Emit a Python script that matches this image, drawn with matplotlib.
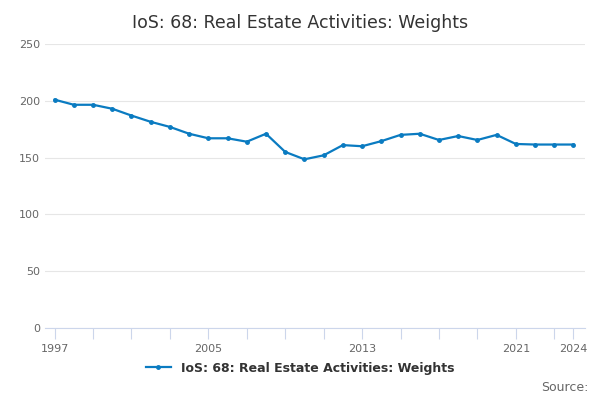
import matplotlib.pyplot as plt

years = list(range(1997, 2025))
weights = [201, 196.5, 196.5, 193, 187, 181.5, 177, 171, 167, 167, 164, 171,
           155, 148.5, 152, 161, 160, 164.5, 170, 171, 165.5, 169, 165.5, 170,
           162, 161.5, 161.5, 161.5]
label = "IoS: 68: Real Estate Activities: Weights"

fig = plt.figure(figsize=(6, 4), dpi=100)
ax = fig.add_axes([0.075, 0.18, 0.90, 0.71])
ax.plot(years, weights, color="#0a7bc1", lw=1.6, marker="o", ms=2.5, label=label)

ax.set_xlim(1996.5, 2024.6)
ax.set_ylim(0, 250)
ax.set_yticks([0, 50, 100, 150, 200, 250])
ax.set_xticks(list(range(1997, 2024, 2)) + [2024])
ax.set_xticklabels([str(y) if y in (1997, 2005, 2013, 2021, 2024) else "" for y in ax.get_xticks().astype(int)])
ax.grid(axis="y", color="#e6e6e6", lw=0.8)
ax.set_axisbelow(True)
for s in ("top", "right", "left"):
    ax.spines[s].set_visible(False)
ax.spines["bottom"].set_color("#ccd6eb")
ax.tick_params(axis="y", length=0, labelsize=8, colors="#666666")
ax.tick_params(axis="x", length=8, color="#ccd6eb", labelsize=8, colors="#666666")

fig.suptitle(label, y=0.965, fontsize=12.5, color="#333333")
fig.legend(loc="lower center", bbox_to_anchor=(0.5, 0.035), frameon=False,
           prop={"size": 9, "weight": "bold"}, labelcolor="#333333", handlelength=2)
fig.text(0.98, 0.015, "Source:", ha="right", va="bottom", fontsize=9, color="#666666")

fig.savefig("out.png")
